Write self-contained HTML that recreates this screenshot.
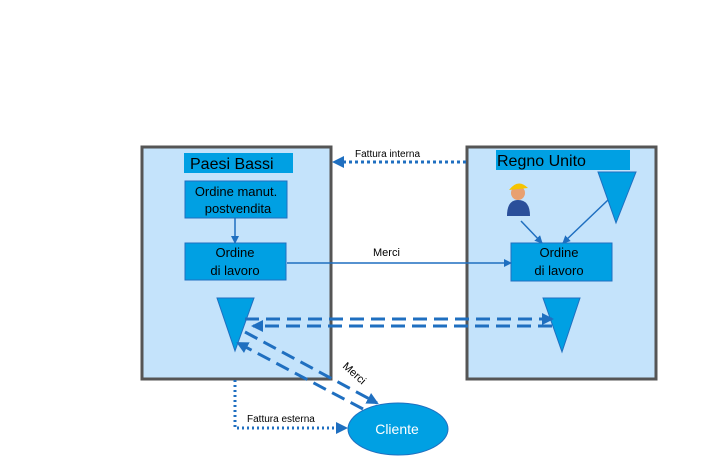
<!DOCTYPE html>
<html><head><style>
body{margin:0;width:714px;height:466px;background:#fff;overflow:hidden}
svg text{font-family:"Liberation Sans",sans-serif}
</style></head><body>
<svg width="714" height="466" viewBox="0 0 714 466">
<defs>
<marker id="a" markerWidth="8" markerHeight="8" refX="7" refY="4" orient="auto" markerUnits="userSpaceOnUse"><path d="M0,0 L8,4 L0,8 z" fill="#1f6fc0"/></marker>
<marker id="b" markerWidth="12" markerHeight="12" refX="10" refY="6" orient="auto" markerUnits="userSpaceOnUse"><path d="M0,0 L12,6 L0,12 z" fill="#1f6fc0"/></marker>
</defs>
<rect x="142" y="147" width="189" height="232" fill="#c4e3fb" stroke="#555" stroke-width="3"/>
<rect x="467" y="147" width="189" height="232" fill="#c4e3fb" stroke="#555" stroke-width="3"/>
<rect x="184" y="153" width="109" height="20" fill="#00a0e3"/>
<text x="190" y="169" font-size="16">Paesi Bassi</text>
<rect x="185" y="181" width="102" height="37" fill="#00a0e3" stroke="#1f6fc0"/>
<text x="236" y="196" font-size="13" text-anchor="middle">Ordine manut.</text>
<text x="238" y="213" font-size="13" text-anchor="middle">postvendita</text>
<line x1="235" y1="218" x2="235" y2="243" stroke="#1f6fc0" stroke-width="1.5" marker-end="url(#a)"/>
<rect x="185" y="243" width="101" height="37" fill="#00a0e3" stroke="#1f6fc0"/>
<text x="235" y="257" font-size="13" text-anchor="middle">Ordine</text>
<text x="235" y="275" font-size="13" text-anchor="middle">di lavoro</text>
<rect x="496" y="150" width="134" height="20" fill="#00a0e3"/>
<text x="497" y="166" font-size="16">Regno Unito</text>
<rect x="511" y="243" width="101" height="38" fill="#00a0e3" stroke="#1f6fc0"/>
<text x="559" y="257" font-size="13" text-anchor="middle">Ordine</text>
<text x="559" y="275" font-size="13" text-anchor="middle">di lavoro</text>
<polygon points="598,172 636,172 616,223" fill="#00a0e3" stroke="#1f6fc0"/>
<line x1="608" y1="200" x2="563" y2="243" stroke="#1f6fc0" stroke-width="1.5" marker-end="url(#a)"/>
<line x1="521" y1="221" x2="542" y2="243" stroke="#1f6fc0" stroke-width="1.5" marker-end="url(#a)"/>
<circle cx="518" cy="193" r="7" fill="#e8a070"/>
<path d="M509,190 Q518,178 528,188 Z" fill="#f5c400"/>
<path d="M507,216 Q507,200 518,200 Q530,200 530,216 Z" fill="#2a4f9a"/>
<line x1="287" y1="263" x2="511" y2="263" stroke="#1f6fc0" stroke-width="1.5" marker-end="url(#a)"/>
<text x="373" y="256" font-size="11">Merci</text>
<line x1="466" y1="162" x2="334" y2="162" stroke="#1f6fc0" stroke-width="3" stroke-dasharray="3,3" marker-end="url(#b)"/>
<text x="355" y="157" font-size="10">Fattura interna</text>
<polygon points="217,298 254,298 235,351" fill="#00a0e3" stroke="#1f6fc0"/>
<polygon points="543,298 580,298 562,352" fill="#00a0e3" stroke="#1f6fc0"/>
<line x1="245" y1="319" x2="552" y2="319" stroke="#1f6fc0" stroke-width="3" stroke-dasharray="14,7" marker-end="url(#b)"/>
<line x1="552" y1="326" x2="253" y2="326" stroke="#1f6fc0" stroke-width="3" stroke-dasharray="14,7" marker-end="url(#b)"/>
<line x1="245" y1="332" x2="377" y2="403" stroke="#1f6fc0" stroke-width="3" stroke-dasharray="14,7" marker-end="url(#b)"/>
<line x1="363" y1="409" x2="238" y2="343" stroke="#1f6fc0" stroke-width="3" stroke-dasharray="14,7" marker-end="url(#b)"/>
<text x="0" y="0" font-size="11" transform="translate(342,367) rotate(42)">Merci</text>
<polyline points="235,380 235,428 346,428" fill="none" stroke="#1f6fc0" stroke-width="3" stroke-dasharray="2,3" marker-end="url(#b)"/>
<text x="247" y="422" font-size="10">Fattura esterna</text>
<ellipse cx="398" cy="429" rx="50" ry="26" fill="#00a0e3" stroke="#1f6fc0"/>
<text x="397" y="434" font-size="14" fill="#fff" text-anchor="middle">Cliente</text>
</svg>
</body></html>
